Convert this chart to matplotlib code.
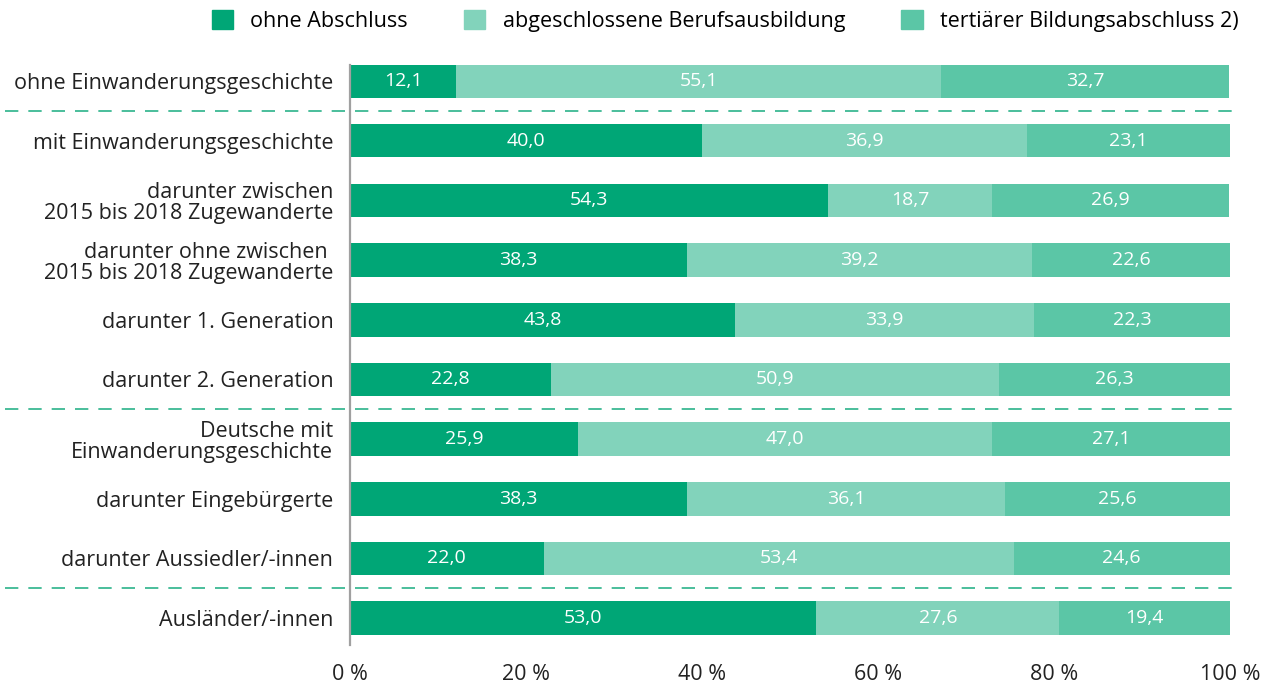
import matplotlib
matplotlib.use("Agg")
import matplotlib.pyplot as plt
from matplotlib.patches import Patch
import matplotlib.transforms as mtransforms

plt.rcParams["font.family"] = ["Open Sans", "DejaVu Sans"]

CATEGORIES = [
    "ohne Einwanderungsgeschichte",
    "mit Einwanderungsgeschichte",
    "darunter zwischen\n2015 bis 2018 Zugewanderte",
    "darunter ohne zwischen \n2015 bis 2018 Zugewanderte",
    "darunter 1. Generation",
    "darunter 2. Generation",
    "Deutsche mit\nEinwanderungsgeschichte",
    "darunter Eingebürgerte",
    "darunter Aussiedler/-innen",
    "Ausländer/-innen",
]
OHNE = [12.1, 40.0, 54.3, 38.3, 43.8, 22.8, 25.9, 38.3, 22.0, 53.0]
BERUF = [55.1, 36.9, 18.7, 39.2, 33.9, 50.9, 47.0, 36.1, 53.4, 27.6]
TERT = [32.7, 23.1, 26.9, 22.6, 22.3, 26.3, 27.1, 25.6, 24.6, 19.4]
SERIES = ["ohne Abschluss", "abgeschlossene Berufsausbildung",
          "tertiärer Bildungsabschluss 2)"]
COLORS = ["#00a676", "#82d3bb", "#5bc6a6"]
DIVIDERS = [0.5, 5.5, 8.5]  # dashed separators between groups

W, H = 1271, 689
fig = plt.figure(figsize=(W / 100, H / 100), dpi=100)
ax = fig.add_axes([350 / W, 1 - 645 / H, 880 / W, 580 / H])

ys = list(range(len(CATEGORIES)))
left = [0.0] * len(ys)
for vals, col in zip([OHNE, BERUF, TERT], COLORS):
    ax.barh(ys, vals, left=left, height=0.56, color=col, zorder=2)
    for y, l, v in zip(ys, left, vals):
        ax.text(l + v / 2, y, f"{v:.1f}".replace(".", ","), ha="center",
                va="center", color="white", fontsize=14, zorder=3)
    left = [a + b for a, b in zip(left, vals)]

# dashed separators spanning the label area too
tr = mtransforms.blended_transform_factory(fig.transFigure, ax.transData)
for d in DIVIDERS:
    ax.plot([5 / W, 1232 / W], [d, d], transform=tr, color="#2bb38a",
            lw=1.2, ls=(0, (8, 6)), clip_on=False, zorder=1)

ax.set_xlim(0, 100)
ax.set_ylim(9.45, -0.27)
ax.set_yticks(ys)
ax.set_yticklabels(CATEGORIES, fontsize=15.5, color="#222222",
                   linespacing=1.0)
ax.set_xticks([0, 20, 40, 60, 80, 100])
ax.set_xticklabels([f"{t} %" for t in [0, 20, 40, 60, 80, 100]],
                   fontsize=15.5, color="#222222")
ax.tick_params(axis="both", length=0)
ax.tick_params(axis="x", pad=14)
ax.tick_params(axis="y", pad=12)
for s in ["top", "right", "bottom"]:
    ax.spines[s].set_visible(False)
ax.spines["left"].set_color("#a0a0a0")
ax.spines["left"].set_linewidth(1.6)
ax.spines["left"].set_zorder(4)

handles = [Patch(color=c, label=l) for c, l in zip(COLORS, SERIES)]
fig.legend(handles=handles, loc="center", bbox_to_anchor=(725 / W, 1 - 21 / H),
           ncol=3, frameon=False, fontsize=15.5, handlelength=1.0,
           handleheight=1.0, handletextpad=0.8, columnspacing=2.6)

fig.savefig("out.png", dpi=100)
